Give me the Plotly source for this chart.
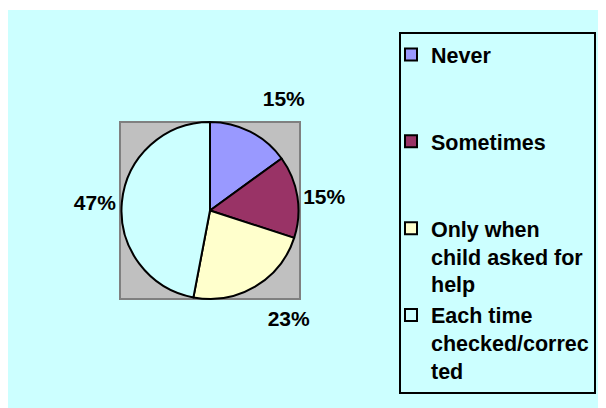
import plotly.graph_objects as go

labels = ["Never", "Sometimes", "Only when child asked for help", "Each time checked/corrected"]
legend_text = ["Never<br> <br> ", "Sometimes<br> <br> ",
               "Only when<br>child asked for<br>help", "Each time<br>checked/correc<br>ted"]
values = [15, 15, 23, 47]
colors = ["#9999FF", "#993366", "#FFFFCC", "#CCFFFF"]
label_tpl = ["%{percent:.0%}<br> ", "%{percent:.0%}", " <br>%{percent:.0%}", "%{percent:.0%}"]

# page has an 8px body margin, so the figure fills the rest of the window
W, H = 598, 400
fnt = dict(family="Liberation Sans, Arial, sans-serif", size=21, color="black", weight="bold")
leg_fnt = dict(fnt, size=21.5)

fig = go.Figure()
fig.add_trace(go.Pie(
    labels=legend_text, values=values, sort=False, direction="clockwise", rotation=0,
    marker=dict(colors=colors, line=dict(color="black", width=2)),
    textinfo="percent", texttemplate=label_tpl, textposition="outside",
    textfont=fnt, hovertext=labels, hoverinfo="text+percent",
    domain=dict(x=[112 / W, 292 / W], y=[1 - 291 / H, 1 - 114 / H]),
))

# white strip on top and grey plot square
fig.add_shape(type="rect", xref="paper", yref="paper", x0=0, x1=1, y0=1 - 2 / H, y1=1,
              fillcolor="white", line_width=0, layer="below")
fig.add_shape(type="rect", xref="paper", yref="paper", x0=112 / W, x1=292 / W,
              y0=1 - 291 / H, y1=1 - 114 / H,
              fillcolor="#C0C0C0", line=dict(color="#808080", width=2), layer="below")

fig.update_layout(
    width=W, height=H, margin=dict(l=0, r=0, t=0, b=0),
    paper_bgcolor="#CCFFFF", plot_bgcolor="#CCFFFF",
    font=fnt,
    legend=dict(x=391 / W, y=1 - 24 / H, xanchor="left", yanchor="top",
                bgcolor="rgba(0,0,0,0)", bordercolor="black", borderwidth=2,
                valign="top", indentation=-10, font=leg_fnt),
)

fig.write_html("out.html")
